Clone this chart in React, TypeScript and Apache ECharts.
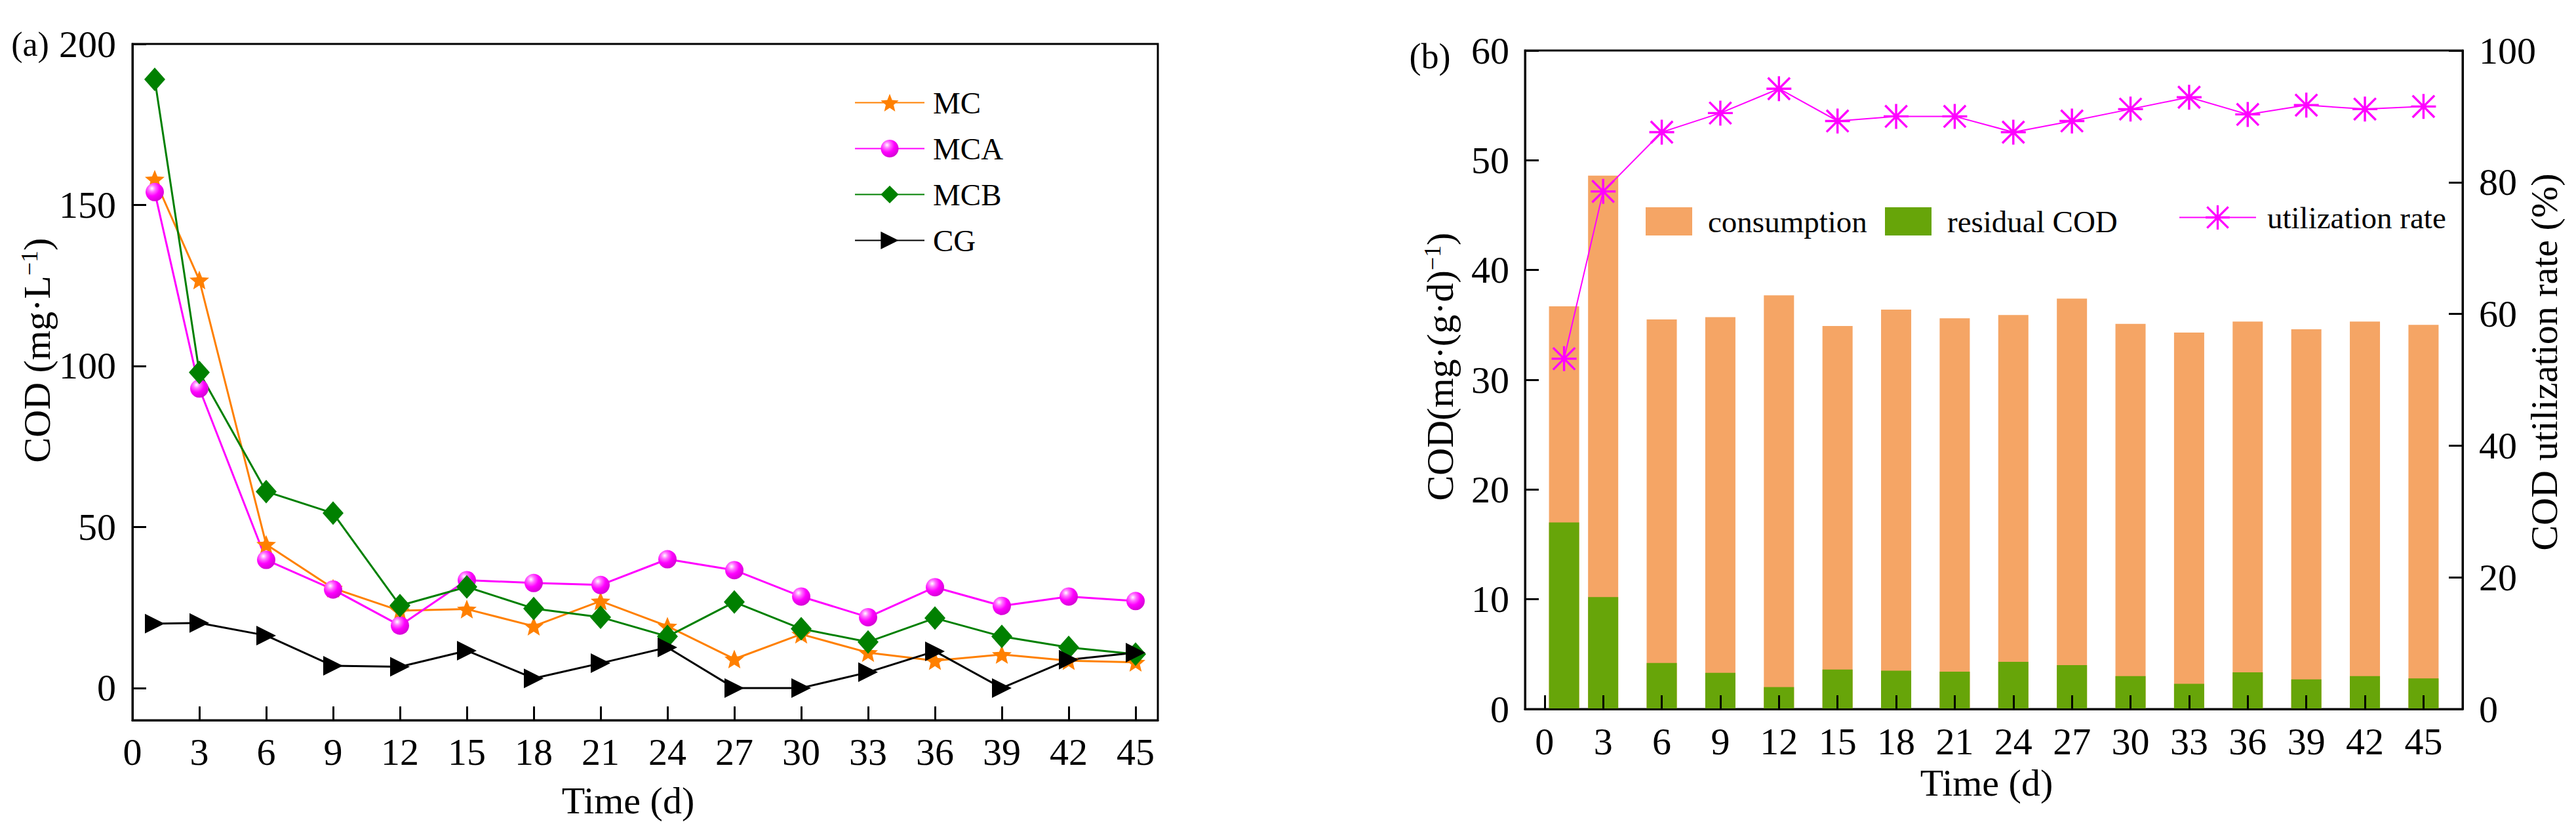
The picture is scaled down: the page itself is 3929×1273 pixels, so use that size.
import React, { useEffect, useRef } from 'react';
import * as echarts from 'echarts';

// ---------- data ----------
const days = [1, 3, 6, 9, 12, 15, 18, 21, 24, 27, 30, 33, 36, 39, 42, 45];
const xTicks = [0, 3, 6, 9, 12, 15, 18, 21, 24, 27, 30, 33, 36, 39, 42, 45];
const yTicksA = [0, 50, 100, 150, 200];

const mc = [158, 126.7, 44.6, 31, 24, 24.5, 19.2, 27, 19.2, 9, 16.7, 11, 8.5, 10.4, 8.5, 8];
const mca = [154, 93, 39.8, 30.6, 19.4, 33.5, 32.6, 32, 40, 36.6, 28.4, 22, 31.3, 25.5, 28.4, 27];
const mcb = [189, 98, 61, 54.3, 25.6, 31.4, 24.7, 22, 16, 26.7, 18.4, 14.3, 21.7, 16, 12.6, 10.5];
const cg = [20, 20.2, 16.3, 6.9, 6.6, 11.6, 3, 7.7, 12.6, 0, 0, 4.9, 11.4, 0, 8.8, 11];

// total bar height (consumption + residual) and residual part
const totalCOD = [36.7, 48.6, 35.5, 35.7, 37.7, 34.9, 36.4, 35.6, 35.9, 37.4, 35.1, 34.3, 35.3, 34.6, 35.3, 35.0];
const residual = [17.0, 10.2, 4.2, 3.3, 2.0, 3.6, 3.5, 3.4, 4.3, 4.0, 3.0, 2.3, 3.35, 2.7, 3.0, 2.8];
const utilization = [53.2, 78.6, 87.6, 90.5, 94.2, 89.3, 90, 90, 87.6, 89.3, 91.1, 92.9, 90.3, 91.7, 91.1, 91.5];

// ---------- styling ----------
const FONT = '"Liberation Serif", "Times New Roman", serif';
const TICK_FS = 58;
const LEG_FS = 47;
const TITLE_FS = 58;

const STAR =
  'path://M50,0 L62.93,32.2 L97.55,34.55 L70.92,56.8 L79.39,90.45 L50,72 L20.61,90.45 L29.08,56.8 L2.45,34.55 L37.07,32.2 Z';
const ASTERISK =
  'path://M45.5,0 L54.5,0 L54.5,100 L45.5,100 Z M0,45.5 L100,45.5 L100,54.5 L0,54.5 Z ' +
  'M9.18,2.82 L97.18,90.82 L90.82,97.18 L2.82,9.18 Z M97.18,9.18 L9.18,97.18 L2.82,90.82 L90.82,2.82 Z';

const pairs = (vals: number[]) => days.map((d, i) => [d, vals[i]]);

const axisLine = { show: true, onZero: false, lineStyle: { color: '#000', width: 3 } };
const tick = (vals?: number[]) => ({
  show: true,
  inside: true,
  length: 21,
  lineStyle: { color: '#000', width: 3 },
  ...(vals ? { customValues: vals } : {}),
});
const label = (margin: number, vals?: number[]) => ({
  color: '#000',
  fontSize: TICK_FS,
  fontFamily: FONT,
  margin,
  ...(vals ? { customValues: vals } : {}),
});

const richTitle = {
  n: { fontSize: TITLE_FS, fontFamily: FONT, fill: '#000' },
  s: { fontSize: 36, fontFamily: FONT, fill: '#000', verticalAlign: 'top' },
};

function plainText(x: number, y: number, text: string, rotation = 0, size = TITLE_FS) {
  return {
    type: 'text', x, y, rotation,
    style: { text, fontSize: size, fontFamily: FONT, fill: '#000', align: 'center', verticalAlign: 'middle' },
  };
}
function richText(x: number, y: number, text: string, rotation = 0) {
  return {
    type: 'text', x, y, rotation,
    style: { text, rich: richTitle, fontSize: TITLE_FS, fontFamily: FONT, fill: '#000', align: 'center', verticalAlign: 'middle' },
  };
}

function buildOption() {
  const sphere = new echarts.graphic.RadialGradient(0.35, 0.3, 0.75, [
    { offset: 0, color: '#ffffff' },
    { offset: 0.25, color: '#ff70ff' },
    { offset: 0.55, color: '#ff00ff' },
    { offset: 1, color: '#d000d0' },
  ]);

  const legText = (pad: number) => ({
    color: '#000',
    fontSize: LEG_FS,
    fontFamily: FONT,
    padding: [0, 0, 0, pad],
  });

  return {
    animation: false,
    backgroundColor: '#fff',
    textStyle: { fontFamily: FONT },
    grid: [
      { left: 202, top: 67, width: 1564, height: 1031, show: true, borderColor: '#000', borderWidth: 3 },
      { left: 2326, top: 77, width: 1430, height: 1004, show: true, borderColor: '#000', borderWidth: 3 },
    ],
    xAxis: [
      {
        type: 'value', gridIndex: 0, min: 0, max: 46, z: 5,
        axisLine, axisTick: tick(xTicks), axisLabel: label(19, xTicks), splitLine: { show: false },
      },
      {
        type: 'value', gridIndex: 1, min: -1, max: 47, z: 5,
        axisLine, axisTick: tick(xTicks), axisLabel: label(20, xTicks), splitLine: { show: false },
      },
    ],
    yAxis: [
      {
        type: 'value', gridIndex: 0, min: -10, max: 200, z: 5,
        axisLine, axisTick: tick(yTicksA), axisLabel: label(25, yTicksA), splitLine: { show: false },
      },
      {
        type: 'value', gridIndex: 1, min: 0, max: 60, interval: 10, z: 5,
        axisLine, axisTick: tick(), axisLabel: label(24), splitLine: { show: false },
      },
      {
        type: 'value', gridIndex: 1, min: 0, max: 100, interval: 20, position: 'right', z: 5,
        axisLine, axisTick: tick(), axisLabel: label(25), splitLine: { show: false },
      },
    ],
    legend: [
      {
        orient: 'vertical', left: 1303, top: 133, padding: 0,
        itemWidth: 106, itemHeight: 34, itemGap: 23, selectedMode: false,
        data: ['MC', 'MCA', 'MCB', 'CG'], textStyle: legText(8),
      },
      {
        left: 2510, top: 314, padding: 0, itemWidth: 71, itemHeight: 43, icon: 'rect',
        selectedMode: false, data: ['consumption'], textStyle: legText(19),
      },
      {
        left: 2875, top: 314, padding: 0, itemWidth: 71, itemHeight: 43, icon: 'rect',
        selectedMode: false, data: ['residual COD'], textStyle: legText(19),
      },
      {
        left: 3323, top: 308, padding: 0, itemWidth: 117, itemHeight: 46,
        selectedMode: false, data: ['utilization rate'], textStyle: legText(12),
      },
    ],
    graphic: [
      plainText(46, 67, '(a)', 0, 52),
      plainText(2181, 86, '(b)', 0, 54),
      plainText(958, 1220, 'Time (d)'),
      plainText(3030, 1193, 'Time (d)'),
      richText(56, 534, '{n|COD (mg·L}{s|−1}{n|)}', Math.PI / 2),
      richText(2196, 559, '{n|COD(mg·(g·d)}{s|−1}{n|)}', Math.PI / 2),
      plainText(3880, 552, 'COD utilization rate (%)', Math.PI / 2),
    ],
    series: [
      {
        name: 'MC', type: 'line', xAxisIndex: 0, yAxisIndex: 0, data: pairs(mc),
        symbol: STAR, symbolSize: 30, symbolKeepAspect: true,
        lineStyle: { color: '#FF8000', width: 3 }, itemStyle: { color: '#FF8000', borderWidth: 0 },
      },
      {
        name: 'MCA', type: 'line', xAxisIndex: 0, yAxisIndex: 0, data: pairs(mca),
        symbol: 'circle', symbolSize: 28,
        lineStyle: { color: '#FF00FF', width: 3 }, itemStyle: { color: sphere, borderWidth: 0 },
      },
      {
        name: 'MCB', type: 'line', xAxisIndex: 0, yAxisIndex: 0, data: pairs(mcb),
        symbol: 'diamond', symbolSize: [32, 36],
        lineStyle: { color: '#008000', width: 3 }, itemStyle: { color: '#008000', borderWidth: 0 },
      },
      {
        name: 'CG', type: 'line', xAxisIndex: 0, yAxisIndex: 0, data: pairs(cg),
        symbol: 'triangle', symbolSize: 30, symbolRotate: -90,
        lineStyle: { color: '#000000', width: 3 }, itemStyle: { color: '#000000', borderWidth: 0 },
      },
      {
        name: 'consumption', type: 'bar', xAxisIndex: 1, yAxisIndex: 1,
        data: pairs(totalCOD), barWidth: 46, barGap: '-100%', itemStyle: { color: '#F5A565' },
      },
      {
        name: 'residual COD', type: 'bar', xAxisIndex: 1, yAxisIndex: 1,
        data: pairs(residual), barWidth: 46, barGap: '-100%', itemStyle: { color: '#67A509' },
      },
      {
        name: 'utilization rate', type: 'line', xAxisIndex: 1, yAxisIndex: 2, data: pairs(utilization),
        symbol: ASTERISK, symbolSize: 38, z: 4,
        lineStyle: { color: '#FF00FF', width: 2 }, itemStyle: { color: '#FF00FF', borderWidth: 0 },
      },
    ],
  };
}

export default function App() {
  const ref = useRef<HTMLDivElement>(null);
  useEffect(() => {
    const chart = echarts.init(ref.current as HTMLDivElement, undefined, { renderer: 'svg' });
    chart.setOption(buildOption() as any);
    return () => chart.dispose();
  }, []);
  return (
    <div
      ref={ref}
      style={{ position: 'fixed', left: 0, top: 0, width: 3929, height: 1273, background: '#fff' }}
    />
  );
}
